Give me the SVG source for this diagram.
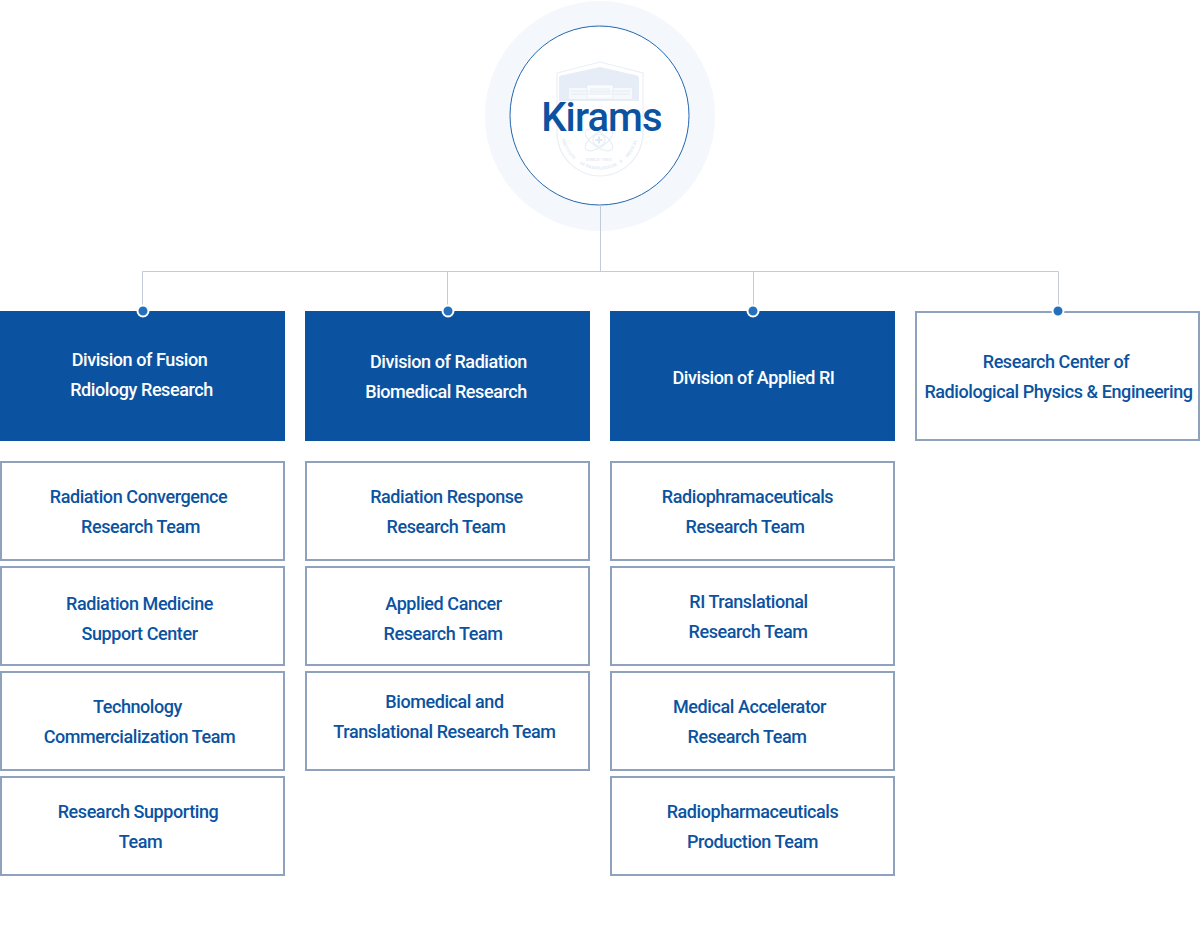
<svg xmlns="http://www.w3.org/2000/svg" xmlns:xlink="http://www.w3.org/1999/xlink" width="1200" height="927" viewBox="0 0 1200 927">
<style>
text{font-family:Roboto,"Liberation Sans",sans-serif;font-weight:500;font-size:18px;letter-spacing:-.42px;text-anchor:middle;fill:#0b53a1}
.d{fill:#0b53a1}
text.w{fill:#fff}
.b{fill:#fff;stroke:#8fa2bd;stroke-width:2}
.c{fill:none;stroke:#c4cbd8;stroke-width:1}
.dot{fill:#2470bb;stroke:#fff;stroke-width:2}
.l{fill:none;stroke:#e9eff7;stroke-width:1.200}
.lf{fill:#e6edf7}
text.s{fill:#e2eaf4;font-size:4.300px;letter-spacing:.3px;font-weight:700}
</style>
<defs><path id="ring" d="M561 131A38.500 38.500 0 0 0 638 131"/></defs>
<g id="root">
<circle cx="600" cy="116" r="115" fill="#f4f8fc"/>
<circle cx="599.500" cy="115.500" r="89.500" fill="#fff" stroke="#2266b0" stroke-width="1"/>
<g id="logo">
<path class="l" d="M557 73L600 62L643 73V132C643 157 623 176 600 176C577 176 557 157 557 132Z"/>
<path class="lf" d="M559 77Q559 76 561 75.500L600 67L637 75.500Q639 76 639 78V101H559Z"/>
<rect x="569" y="88" width="63" height="11" fill="#f6f9fc"/>
<rect x="587" y="85" width="26" height="14" fill="#fbfcfe" stroke="#e2eaf4" stroke-width=".6"/>
<path d="M571 91H630M571 94H630M590 89H610M590 92H610" stroke="#e2eaf4" stroke-width=".8" fill="none"/>
<ellipse class="l" cx="599" cy="140" rx="16" ry="7" transform="rotate(35 599 140)"/>
<ellipse class="l" cx="599" cy="140" rx="16" ry="7" transform="rotate(-35 599 140)"/>
<circle class="l" cx="599" cy="140" r="6"/>
<path d="M599 136.500V143.500M595.500 140H602.500" stroke="#dfe8f3" stroke-width="2" fill="none"/>
<text class="s" x="599" y="160.500">SINCE 1983</text>
<text class="s"><textPath xlink:href="#ring" href="#ring" startOffset="17%">INSTITUTE</textPath></text>
<text class="s"><textPath xlink:href="#ring" href="#ring" startOffset="35%">OF</textPath></text>
<text class="s"><textPath xlink:href="#ring" href="#ring" startOffset="52%">RADIOLOGICAL</textPath></text>
<text class="s"><textPath xlink:href="#ring" href="#ring" startOffset="70%">&amp;</textPath></text>
<text class="s"><textPath xlink:href="#ring" href="#ring" startOffset="84%">MEDICAL</textPath></text>
</g>
<text x="601.500" y="131" style="font-size:40px;letter-spacing:-.9px">Kirams</text>
</g>
<g id="connectors">
<path class="c" d="M600.500 205V271.500M142.500 311V271.500H1058.500V311M447.500 271.500V311M753.500 271.500V311"/>
</g>
<g id="div1"><rect class="d" x="0" y="311" width="285" height="130"/><text class="w" x="139.500" y="366">Division of Fusion</text><text class="w" x="141.500" y="396">Rdiology Research</text></g>
<g id="div2"><rect class="d" x="305" y="311" width="285" height="130"/><text class="w" x="448.500" y="368">Division of Radiation</text><text class="w" x="446" y="398">Biomedical Research</text></g>
<g id="div3"><rect class="d" x="610" y="311" width="285" height="130"/><text class="w" x="753.500" y="384">Division of Applied RI</text></g>
<g id="div4"><rect class="b" x="916" y="312" width="283" height="128"/><text x="1056" y="368">Research Center of</text><text x="1058.500" y="398">Radiological Physics &amp; Engineering</text></g>
<circle class="dot" cx="143" cy="311" r="5.500"/>
<circle class="dot" cx="448" cy="311" r="5.500"/>
<circle class="dot" cx="753" cy="311" r="5.500"/>
<circle class="dot" cx="1058" cy="311" r="5.500"/>
<g id="t1"><rect class="b" x="1" y="462" width="283" height="98"/><text x="138.500" y="503">Radiation Convergence</text><text x="140.500" y="533">Research Team</text></g>
<g id="t2"><rect class="b" x="1" y="567" width="283" height="98"/><text x="139.500" y="610">Radiation Medicine</text><text x="139.500" y="640">Support Center</text></g>
<g id="t3"><rect class="b" x="1" y="672" width="283" height="98"/><text x="137.500" y="713">Technology</text><text x="139.500" y="743">Commercialization Team</text></g>
<g id="t4"><rect class="b" x="1" y="777" width="283" height="98"/><text x="138" y="818">Research Supporting</text><text x="140.500" y="848">Team</text></g>
<g id="t5"><rect class="b" x="306" y="462" width="283" height="98"/><text x="446.500" y="503">Radiation Response</text><text x="446" y="533">Research Team</text></g>
<g id="t6"><rect class="b" x="306" y="567" width="283" height="98"/><text x="443.500" y="610">Applied Cancer</text><text x="443" y="640">Research Team</text></g>
<g id="t7"><rect class="b" x="306" y="672" width="283" height="98"/><text x="444.500" y="708">Biomedical and</text><text x="444.500" y="738">Translational Research Team</text></g>
<g id="t8"><rect class="b" x="611" y="462" width="283" height="98"/><text x="747.500" y="503">Radiophramaceuticals</text><text x="745" y="533">Research Team</text></g>
<g id="t9"><rect class="b" x="611" y="567" width="283" height="98"/><text x="748.500" y="608">RI Translational</text><text x="748" y="638">Research Team</text></g>
<g id="t10"><rect class="b" x="611" y="672" width="283" height="98"/><text x="749.500" y="713">Medical Accelerator</text><text x="747" y="743">Research Team</text></g>
<g id="t11"><rect class="b" x="611" y="777" width="283" height="98"/><text x="752.500" y="818">Radiopharmaceuticals</text><text x="752.500" y="848">Production Team</text></g>
</svg>
